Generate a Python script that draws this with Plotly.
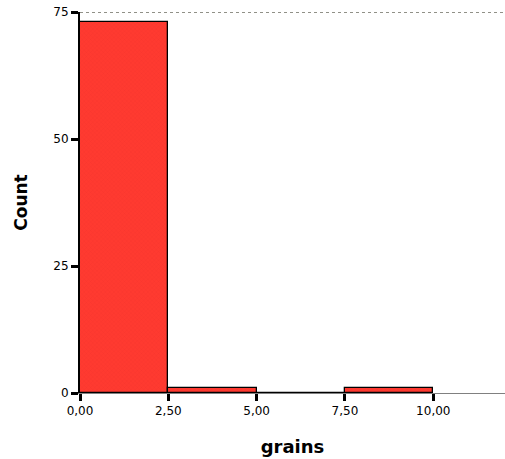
import plotly.graph_objects as go

bin_starts = [0.0, 2.5, 5.0, 7.5]
bin_width = 2.5
counts = [73, 1, 0, 1]
x_ticks = [0, 2.5, 5, 7.5, 10]
x_tick_labels = ["0,00", "2,50", "5,00", "7,50", "10,00"]
y_ticks = [0, 25, 50, 75]
y_tick_labels = ["0", "25", "50", "75"]

fig = go.Figure()
fig.add_trace(go.Bar(
    x=bin_starts, y=counts, width=[bin_width] * len(bin_starts), offset=0,
    marker=dict(color="#ff3a30", line=dict(color="black", width=1.3),
                pattern=dict(shape="x", size=3, fgcolor="#e02a2a", solidity=0.15)),
    hoverinfo="skip",
))

fig.add_shape(type="line", xref="paper", yref="y", x0=0, x1=1, y0=75, y1=75,
              line=dict(color="#222211", width=1.2, dash="dot"), layer="below")

fig.update_layout(
    width=505, height=459,
    margin=dict(l=80, r=0, t=12, b=66),
    paper_bgcolor="white", plot_bgcolor="white",
    showlegend=False,
    font=dict(family="DejaVu Sans", size=12, color="black"),
    bargap=0,
)
fig.update_xaxes(
    range=[0, 12.03], tickvals=x_ticks, ticktext=x_tick_labels,
    showgrid=False, zeroline=False, showline=True, linecolor="#808080", linewidth=1,
    ticks="outside", ticklen=7, tickwidth=2.5, tickcolor="black",
    tickfont=dict(family="DejaVu Sans", size=12, color="black"),
    title=dict(text="<b>grains</b>", font=dict(family="DejaVu Sans", size=18, color="black"), standoff=22),
)
fig.update_yaxes(
    range=[0, 75], tickvals=y_ticks, ticktext=y_tick_labels,
    showgrid=False, zeroline=False, showline=True, linecolor="black", linewidth=2,
    ticks="outside", ticklen=7, tickwidth=2.5, tickcolor="black",
    tickfont=dict(family="DejaVu Sans", size=12, color="black"),
    title=dict(text="<b>Count</b>", font=dict(family="DejaVu Sans", size=17, color="black"), standoff=21),
)

fig.write_html("out.html", config={"displayModeBar": False},
               post_script="document.body.style.margin='0';document.body.style.overflow='hidden';")
